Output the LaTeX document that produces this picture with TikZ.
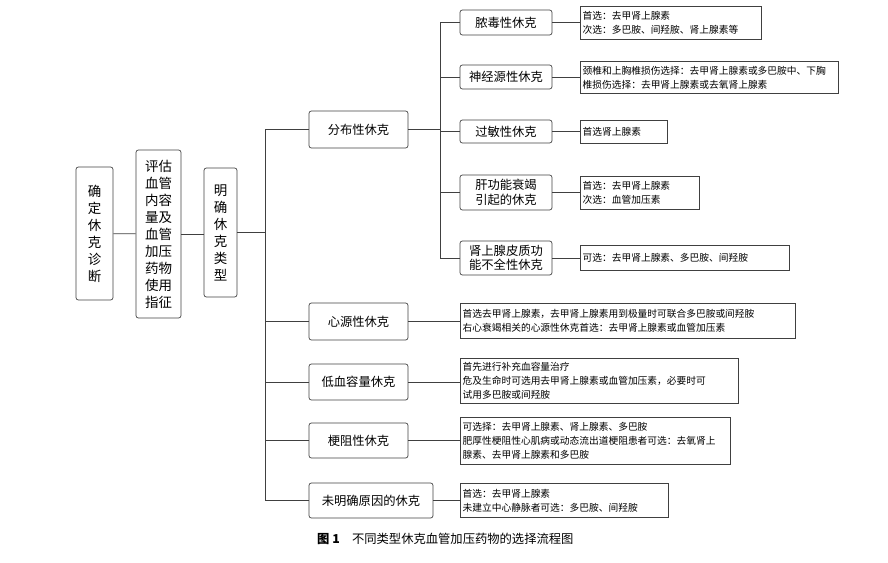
\documentclass[tikz,border=0pt]{standalone}
\usepackage{fontspec}
\newfontfamily\cjk{Noto Sans CJK SC}
\usetikzlibrary{positioning}
\tikzset{
  line/.style={draw=black!75, line width=0.6pt},
  stage/.style={line, rounded corners=2pt, align=center, inner sep=2pt,
    font=\cjk\fontsize{11.5}{14.5}\selectfont},
  kind/.style={line, rounded corners=2pt, align=center, inner sep=1pt,
    font=\cjk\fontsize{10.5}{12.5}\selectfont},
  drug/.style={line, anchor=north west, align=left, inner sep=2pt,
    font=\cjk\fontsize{8.3}{12}\selectfont},
}
\begin{document}
\begin{tikzpicture}[x=0.3mm, y=-0.3mm]
    \useasboundingbox (0,0) rectangle (888,562);

    % main stages
    \node[stage, minimum width=11.1mm, minimum height=39.9mm] (diag) at (94.5,233.5) {确\\定\\休\\克\\诊\\断};
    \node[stage, minimum width=13.5mm, minimum height=50.4mm] (eval) at (158.5,234) {评估\\血管\\内容\\量及\\血管\\加压\\药物\\使用\\指征};
    \node[stage, minimum width=9.9mm, minimum height=38.7mm] (type) at (220.5,232.5) {明\\确\\休\\克\\类\\型};

    % shock types
    \node[kind, minimum width=29.7mm, minimum height=11.1mm] (dist) at (358.5,129.5) {分布性休克};
    \node[kind, minimum width=29.7mm, minimum height=11.1mm] (card) at (358.5,321.5) {心源性休克};
    \node[kind, minimum width=29.7mm, minimum height=10.8mm] (hypo) at (358.5,382) {低血容量休克};
    \node[kind, minimum width=29.7mm, minimum height=10.5mm] (obst) at (358.5,440.5) {梗阻性休克};
    \node[kind, minimum width=37.2mm, minimum height=10.5mm] (unkn) at (371,500.5) {未明确原因的休克};

    % distributive subtypes
    \node[kind, minimum width=27.6mm, minimum height=7.5mm] (seps) at (506,22.5) {脓毒性休克};
    \node[kind, minimum width=27.6mm, minimum height=7.2mm] (neur) at (506,77) {神经源性休克};
    \node[kind, minimum width=27.6mm, minimum height=6.9mm] (anap) at (506,131.5) {过敏性休克};
    \node[kind, minimum width=27.6mm, minimum height=10.5mm] (live) at (506,192.5) {肝功能衰竭\\引起的休克};
    \node[kind, minimum width=27.6mm, minimum height=10.2mm] (adre) at (506,258) {肾上腺皮质功\\能不全性休克};

    % drug choices
    \node[drug, text width=52.8mm, minimum height=9.9mm] (d1) at (580,6) {首选：去甲肾上腺素\\次选：多巴胺、间羟胺、肾上腺素等};
    \node[drug, text width=75.9mm, minimum height=9.6mm] (d2) at (580,61) {颈椎和上胸椎损伤选择：去甲肾上腺素或多巴胺中、下胸\\椎损伤选择：去甲肾上腺素或去氧肾上腺素};
    \node[drug, text width=24.6mm, minimum height=6.9mm] (d3) at (580,120) {首选肾上腺素};
    \node[drug, text width=34.2mm, minimum height=9.9mm] (d4) at (580,176) {首选：去甲肾上腺素\\次选：血管加压素};
    \node[drug, text width=61.2mm, minimum height=7.5mm] (d5) at (580,245) {可选：去甲肾上腺素、多巴胺、间羟胺};
    \node[drug, text width=99mm, minimum height=10.5mm] (d6) at (460,303) {首选去甲肾上腺素，去甲肾上腺素用到极量时可联合多巴胺或间羟胺\\右心衰竭相关的心源性休克首选：去甲肾上腺素或血管加压素};
    \node[drug, text width=81.9mm, minimum height=13.5mm] (d7) at (460,358) {首先进行补充血容量治疗\\危及生命时可选用去甲肾上腺素或血管加压素，必要时可\\试用多巴胺或间羟胺};
    \node[drug, text width=79.5mm, minimum height=14.1mm] (d8) at (460,417) {可选择：去甲肾上腺素、肾上腺素、多巴胺\\肥厚性梗阻性心肌病或动态流出道梗阻患者可选：去氧肾上\\腺素、去甲肾上腺素和多巴胺};
    \node[drug, text width=60.9mm, minimum height=10.2mm] (d9) at (460,483) {首选：去甲肾上腺素\\未建立中心静脉者可选：多巴胺、间羟胺};

    % connectors
    \draw[line] (diag) -- (eval);
    \draw[line] (eval) -- (eval -| type.west);
    \coordinate (ta) at (265,129.5);
    \coordinate (tb) at (265,500.5);
    \draw[line] (ta) -- (tb);
    \draw[line] (type.east) -- (ta |- type.east);
    \foreach \k in {dist,card,hypo,obst,unkn}
        \draw[line] (ta |- \k.west) -- (\k.west);
    \coordinate (sa) at (440,22.5);
    \coordinate (sb) at (440,258);
    \draw[line] (sa) -- (sb);
    \draw[line] (dist.east) -- (sa |- dist.east);
    \foreach \k/\d in {seps/d1,neur/d2,anap/d3,live/d4,adre/d5}{
        \draw[line] (sa |- \k.west) -- (\k.west);
        \draw[line] (\k.east) -- (\k.east -| \d.west);
    }
    \foreach \k/\d in {card/d6,hypo/d7,obst/d8,unkn/d9}
        \draw[line] (\k.east) -- (\k.east -| \d.west);

    % caption
    \node[anchor=west, font=\cjk\fontsize{10.5}{12}\selectfont] (cap) at (313,538.5) {\textbf{图 1}\quad 不同类型休克血管加压药物的选择流程图};
\end{tikzpicture}
\end{document}
